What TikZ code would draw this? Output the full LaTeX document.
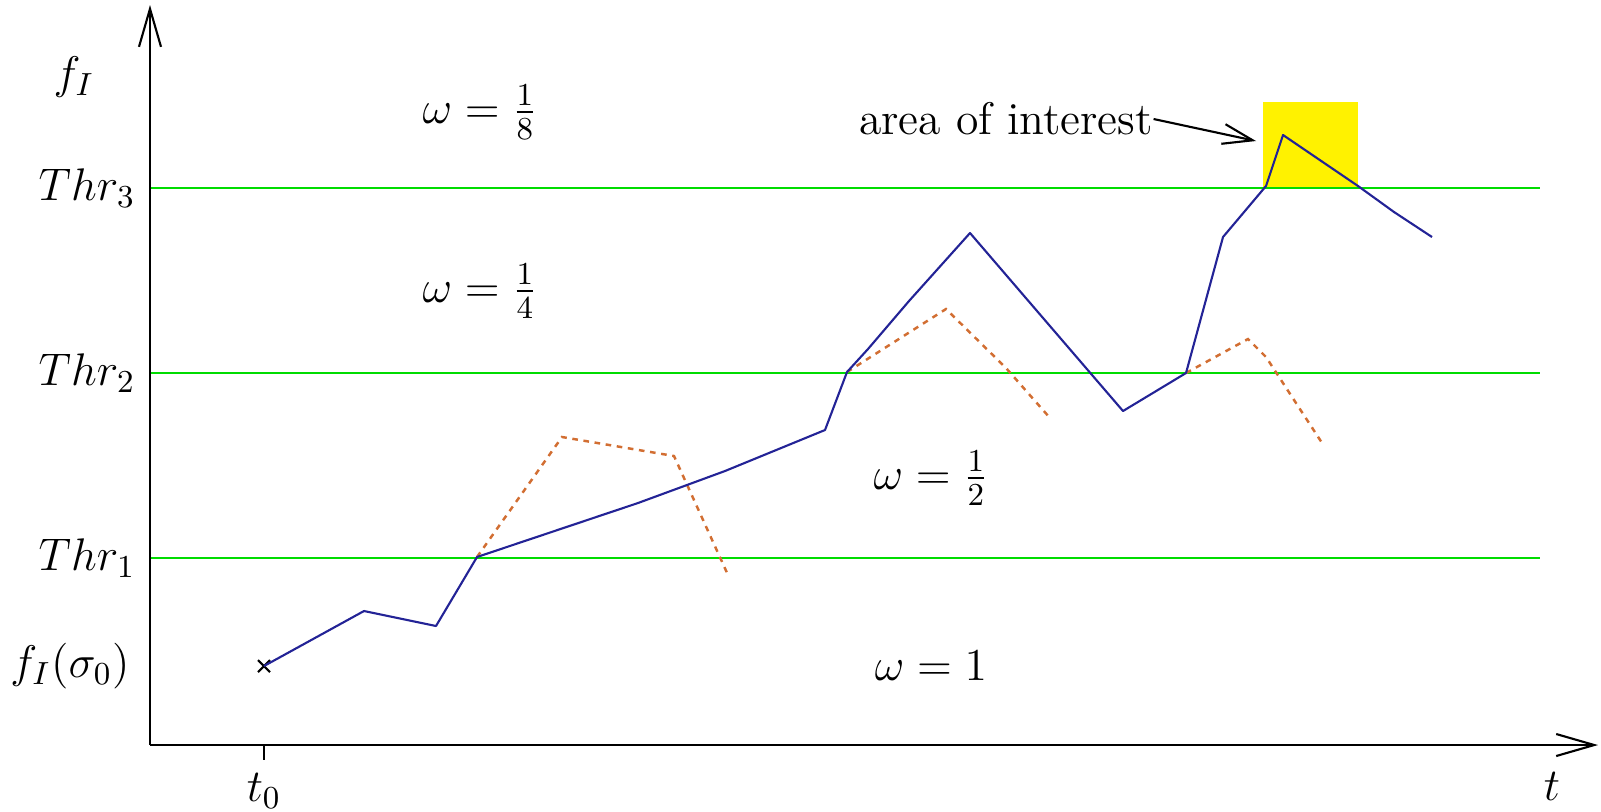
\documentclass[tikz,border=0pt]{standalone}
\usepackage{fix-cm}
\usetikzlibrary{arrows.meta, positioning}
\definecolor{thrgreen}{RGB}{0,220,0}
\definecolor{runblue}{RGB}{35,35,150}
\definecolor{altorange}{RGB}{210,110,50}

\begin{document}
\begin{tikzpicture}[x=0.01cm, y=-0.01cm, >={Straight Barb[length=3.8mm,width=2.2mm]},
  lbl/.style={font=\fontsize{13}{15}\selectfont, inner sep=0pt},
  thr/.style={thrgreen, line width=0.7pt},
  run/.style={runblue, line width=0.6pt, line join=round},
  alt/.style={altorange, line width=0.7pt, dash pattern=on 1.6pt off 1.6pt}]
  \useasboundingbox (0,0) rectangle (1601,811);
  % Area of interest
  \fill[yellow] (1263,102) rectangle (1358,188);
  % Thresholds
  \draw[thr] (150,188) -- (1540,188);
  \draw[thr] (150,373) -- (1540,373);
  \draw[thr] (150,558) -- (1540,558);
  % Axes
  \draw[->, line width=0.6pt] (150,745) -- (150,5);
  \draw[->, line width=0.6pt] (150,745) -- (1598,745);
  \draw[line width=0.6pt] (264,745) -- (264,760);
  % Axis labels
  \node[lbl] (fI)   at (74,77)   {$f_I$};
  \node[lbl] (thr3) at (87,188)  {$Thr_3$};
  \node[lbl] (thr2) at (87,373)  {$Thr_2$};
  \node[lbl] (thr1) at (87,558)  {$Thr_1$};
  \node[lbl] (fs0)  at (70,666)  {$f_I(\sigma_0)$};
  \node[lbl] (t0)   at (264,791) {$t_0$};
  \node[lbl] (t)    at (1552,786) {$t$};
  % Weights
  \node[lbl] (w8) at (480,112) {$\omega = \frac{1}{8}$};
  \node[lbl] (w4) at (480,291) {$\omega = \frac{1}{4}$};
  \node[lbl] (w2) at (931,478) {$\omega = \frac{1}{2}$};
  \node[lbl] (w1) at (931,666) {$\omega = 1$};
  % Start point
  \draw[line width=0.6pt] (258,660) -- (270,672) (258,672) -- (270,660);
  % Rejected moves
  \draw[alt] (477,557) -- (562,437) -- (674,456) -- (728,575);
  \draw[alt] (847,372) -- (946,309) -- (1006,368) -- (1050,418);
  \draw[alt] (1186,373) -- (1248,339) -- (1266,357) -- (1324,446);
  % Accepted run
  \draw[run] (264,666) -- (364,611) -- (436,626) -- (477,557) -- (638,503)
    -- (725,471) -- (825,430) -- (847,372) -- (868,349) -- (909,301)
    -- (970,233) -- (1031,304) -- (1080,361) -- (1123,411) -- (1186,373)
    -- (1223,237) -- (1266,186) -- (1283,135) -- (1358,186) -- (1394,212)
    -- (1432,237);
  % Label of the area
  \node[lbl] (aoi) at (1006,119) {area of interest};
  \coordinate (aoitip) at (1256,141);
  \draw[-{Straight Barb[length=3mm,width=2mm]}, line width=0.6pt] (aoi.east) -- (aoitip);
\end{tikzpicture}
\end{document}
